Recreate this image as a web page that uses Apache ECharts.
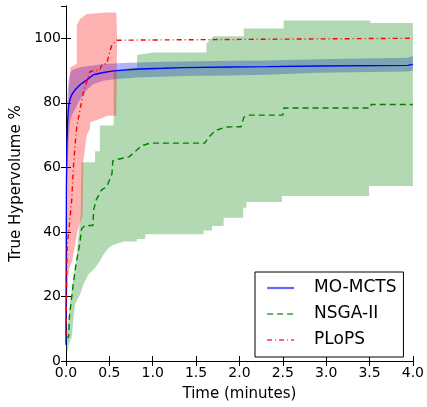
<!DOCTYPE html>
<html>
<head>
<meta charset="utf-8">
<script src="https://cdn.jsdelivr.net/npm/echarts@6/dist/echarts.min.js"></script>
<style>
html, body { margin: 0; padding: 0; background: #fff; }
#chartDiv { width: 427px; height: 407px; }
</style>
</head>
<body>
<div id="chartDiv"></div>
<script>
var names = ['MO-MCTS', 'NSGA-II', 'PLoPS'];

// MO-MCTS mean and band (minutes, %)
var mctsT = [0, 0.005, 0.012, 0.02, 0.03, 0.046, 0.066, 0.104, 0.162, 0.24, 0.316, 0.43, 0.55, 0.7, 0.855, 1.12, 1.35, 1.9, 2.32, 2.9, 3.94, 4.0];
var mctsMean = [5, 55, 68, 75, 79, 81, 82.5, 84, 85.6, 87.1, 88.7, 89.4, 89.9, 90.2, 90.5, 90.7, 90.9, 91.1, 91.2, 91.4, 91.6, 91.9];
var mctsLow = [3, 30, 50, 62, 68, 74, 76, 78, 81, 84, 85.8, 86.8, 87.3, 87.6, 87.9, 88.1, 88.3, 88.5, 88.7, 89.3, 89.7, 90];
var mctsHigh = [8, 65, 78, 84, 87, 89, 90, 90.5, 91, 91.3, 91.6, 92, 92.2, 92.4, 92.5, 92.7, 92.8, 93, 93.1, 93.5, 94, 94.5];

// NSGA-II mean and band
var nsgaT = [0, 0.03, 0.04, 0.08, 0.115, 0.16, 0.18, 0.22, 0.31, 0.32, 0.35, 0.41, 0.47, 0.53, 0.54, 0.6, 0.73, 0.8, 0.87, 0.97, 1.6, 1.65, 1.73, 1.85, 2.02, 2.05, 2.1, 2.5, 2.51, 3.51, 3.52, 4.0];
var nsgaMean = [7, 7.5, 14, 23, 30, 36.5, 41, 42, 42, 47, 50, 53, 54, 58, 62, 62.5, 63.3, 65, 66.7, 67.5, 67.5, 69.5, 71.5, 72.5, 72.6, 75.5, 76.2, 76.2, 78.4, 78.4, 79.5, 79.5];
var nsgaHighT = [0, 0.01, 0.027, 0.046, 0.084, 0.124, 0.14, 0.17, 0.18, 0.335, 0.335, 0.39, 0.39, 0.55, 0.55, 0.82, 0.82, 1.0, 1.62, 1.62, 1.7, 2.05, 2.05, 2.51, 2.51, 3.51, 3.51, 4.0];
var nsgaHigh = [7, 9, 12.5, 17.6, 25.8, 32, 38, 45, 61.6, 61.6, 65, 65, 73, 73, 90, 91, 94.8, 95.6, 95.6, 98.4, 100.6, 100.6, 103, 103, 105.5, 105.5, 104.7, 104.7];
var nsgaLowT = [0, 0.01, 0.03, 0.066, 0.084, 0.104, 0.162, 0.2, 0.258, 0.335, 0.39, 0.43, 0.49, 0.55, 0.67, 0.817, 0.817, 0.913, 0.913, 1.587, 1.587, 1.684, 1.684, 1.818, 1.818, 2.043, 2.043, 2.08, 2.08, 2.49, 2.49, 3.495, 3.495, 4.0];
var nsgaLow = [3, 2, 5, 7.4, 12.5, 17.6, 20.6, 23.7, 26.8, 28.8, 30.9, 32.9, 35, 36, 37, 37, 37.8, 37.8, 39.3, 39.3, 40.4, 40.4, 41.8, 41.8, 44.4, 44.4, 47.5, 47.5, 49.3, 49.3, 51.1, 51.1, 54.2, 54.2];

// PLoPS mean and band
var plopsT = [0, 0.005, 0.01, 0.015, 0.046, 0.066, 0.084, 0.104, 0.124, 0.162, 0.2, 0.24, 0.277, 0.39, 0.413, 0.47, 0.5, 0.528, 0.586, 0.605, 4.0];
var plopsMean = [8, 20, 30, 36, 44, 50, 59.5, 66.7, 72.5, 78, 83, 86.6, 89.7, 90.2, 91.7, 92.2, 95.3, 97.9, 99.4, 100, 100];
var plopsHighT = [0, 0.005, 0.015, 0.027, 0.05, 0.124, 0.124, 0.16, 0.24, 0.47, 0.58, 0.59];
var plopsHigh = [8, 30, 50, 80, 91, 92, 104, 106, 107.5, 108, 108, 100];
var plopsLowT = [0, 0.01, 0.03, 0.07, 0.1, 0.13, 0.19, 0.2, 0.24, 0.277, 0.28, 0.39, 0.48, 0.58, 0.59];
var plopsLow = [8, 20, 28, 31, 35, 40, 45, 62, 70, 72, 74, 75, 76, 76, 100];

var font = 'DejaVu Sans';

function pairs(t, v) {
    var out = [];
    for (var i = 0; i < t.length; i++) out.push([t[i], v[i]]);
    return out;
}

function band(highT, high, lowT, low, color) {
    return {
        type: 'custom',
        silent: true,
        clip: true,
        data: [[0, 0]],
        renderItem: function (params, api) {
            var pts = [];
            for (var i = 0; i < highT.length; i++) pts.push(api.coord([highT[i], high[i]]));
            for (var j = lowT.length - 1; j >= 0; j--) pts.push(api.coord([lowT[j], low[j]]));
            return {
                type: 'polygon',
                shape: {points: pts},
                style: {fill: color, opacity: 0.3}
            };
        }
    };
}

function line(name, t, v, color, dash) {
    return {
        name: name,
        type: 'line',
        data: pairs(t, v),
        symbol: 'none',
        showSymbol: false,
        lineStyle: {color: color, width: 1.4, type: dash},
        itemStyle: {color: color}
    };
}

var axisLine = {show: true, lineStyle: {color: '#000', width: 1}};
var tick = {show: true, inside: true, length: 5, lineStyle: {color: '#000'}};

var myChart = echarts.init(document.getElementById('chartDiv'));
myChart.setOption({
    animation: false,
    textStyle: {fontFamily: font},
    grid: {left: 66, right: 14, top: 6, bottom: 43},
    legend: {
        data: names,
        orient: 'vertical',
        left: 255,
        top: 272,
        itemWidth: 27,
        itemHeight: 10,
        itemGap: 6,
        padding: [6, 7, 7, 11],
        borderColor: '#000',
        borderWidth: 1,
        backgroundColor: '#fff',
        itemStyle: {opacity: 0},
        lineStyle: {width: 2.2, opacity: 0.6},
        textStyle: {fontFamily: font, fontSize: 17, lineHeight: 20, color: '#000', padding: [0, 0, 0, 15]}
    },
    xAxis: [{
        type: 'value', min: 0, max: 4, interval: 0.5,
        axisLine: axisLine, axisTick: tick, splitLine: {show: false},
        axisLabel: {fontSize: 14, color: '#000', margin: 5, formatter: function (v) { return v.toFixed(1); }},
        name: 'Time (minutes)', nameLocation: 'middle', nameGap: 26,
        nameTextStyle: {fontSize: 15, color: '#000'}
    }, {
        type: 'value', min: 0, max: 4, interval: 0.5, position: 'top',
        axisLine: axisLine, axisTick: tick, splitLine: {show: false}, axisLabel: {show: false}
    }],
    yAxis: [{
        type: 'value', min: 0, max: 110, interval: 20,
        axisLine: axisLine, axisTick: tick, splitLine: {show: false},
        axisLabel: {fontSize: 14, color: '#000', margin: 5, showMaxLabel: false},
        name: 'True Hypervolume %', nameLocation: 'middle', nameGap: 31,
        nameTextStyle: {fontSize: 15, color: '#000'}
    }, {
        type: 'value', min: 0, max: 110, interval: 20, position: 'right',
        axisLine: axisLine, axisTick: tick, splitLine: {show: false}, axisLabel: {show: false}
    }],
    series: [
        band(mctsT, mctsHigh, mctsT, mctsLow, '#0000ff'),
        band(nsgaHighT, nsgaHigh, nsgaLowT, nsgaLow, '#008000'),
        band(plopsHighT, plopsHigh, plopsLowT, plopsLow, '#ff0000'),
        line(names[0], mctsT, mctsMean, '#0000ff', 'solid'),
        line(names[1], nsgaT, nsgaMean, '#008000', [6, 4]),
        line(names[2], plopsT, plopsMean, '#ff0000', [5, 3, 1, 3])
    ]
});
window.onresize = myChart.resize;
</script>
</body>
</html>
